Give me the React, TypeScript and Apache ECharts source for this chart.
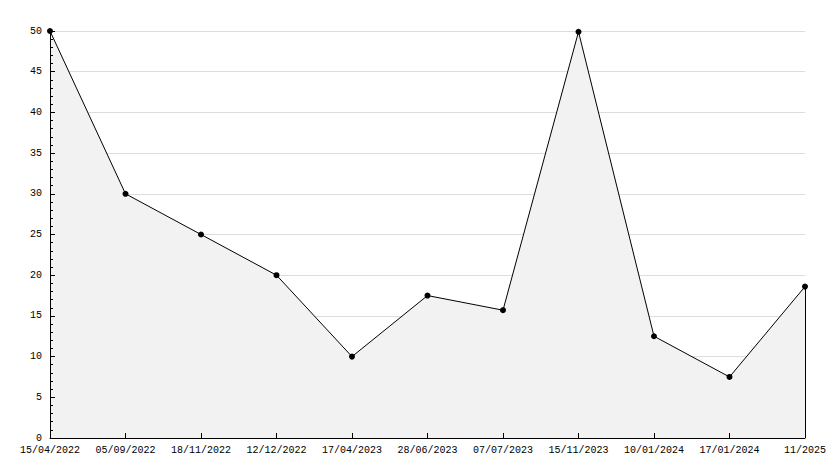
import React, { useEffect, useRef } from "react";
import * as echarts from "echarts";

const categories = [
  "15/04/2022",
  "05/09/2022",
  "18/11/2022",
  "12/12/2022",
  "17/04/2023",
  "28/06/2023",
  "07/07/2023",
  "15/11/2023",
  "10/01/2024",
  "17/01/2024",
  "11/2025",
];
const values = [50, 30, 25, 20, 10, 17.5, 15.7, 49.9, 12.5, 7.5, 18.6];
const yTicks = { min: 0, max: 50, interval: 5 };

export default function App() {
  const ref = useRef<HTMLDivElement>(null);
  useEffect(() => {
    if (!ref.current) return;
    const chart = echarts.init(ref.current, null, { renderer: "svg" });
    const font = "Liberation Mono";
    const last = categories[categories.length - 1];
    chart.setOption({
      animation: false,
      backgroundColor: "#ffffff",
      grid: { left: 50, right: 29, top: 31, bottom: 30, containLabel: false },
      xAxis: {
        type: "category",
        data: categories,
        boundaryGap: false,
        z: 10,
        axisLine: { show: true, lineStyle: { color: "#000", width: 1 } },
        axisTick: { show: true, inside: true, length: 5, lineStyle: { color: "#000" } },
        axisLabel: { color: "#000", fontFamily: font, fontSize: 10, margin: 7, interval: 0 },
        splitLine: { show: false },
      },
      yAxis: [
        {
          type: "value",
          min: yTicks.min,
          max: yTicks.max,
          interval: yTicks.interval,
          position: "left",
          axisLine: { show: false },
          axisTick: { show: false },
          axisLabel: { show: false },
          splitLine: { show: true, lineStyle: { color: "#dddddd", width: 1 } },
        },
        {
          type: "value",
          min: yTicks.min,
          max: yTicks.max,
          interval: yTicks.interval,
          position: "left",
          offset: 0,
          z: 10,
          axisLine: { show: true, lineStyle: { color: "#000", width: 1 } },
          axisTick: { show: true, inside: true, length: 5, lineStyle: { color: "#000" } },
          minorTick: { show: true, splitNumber: 5, length: 3, lineStyle: { color: "#000" } },
          axisLabel: { color: "#000", fontFamily: font, fontSize: 10, margin: 8 },
          splitLine: { show: false },
        },
      ],
      series: [
        {
          type: "line",
          yAxisIndex: 0,
          data: values,
          symbol: "circle",
          symbolSize: 6,
          z: 5,
          itemStyle: { color: "#000" },
          lineStyle: { color: "#000", width: 1 },
          areaStyle: { color: "#f2f2f2", opacity: 1 },
          markLine: {
            silent: true,
            symbol: "none",
            label: { show: false },
            lineStyle: { color: "#000", width: 1, type: "solid" },
            data: [
              [
                { coord: [last, 0] },
                { coord: [last, values[values.length - 1]] },
              ],
            ],
          },
        },
      ],
    });
    return () => chart.dispose();
  }, []);
  return (
    <div
      ref={ref}
      style={{ position: "fixed", left: 0, top: 0, width: 834, height: 468 }}
    />
  );
}
